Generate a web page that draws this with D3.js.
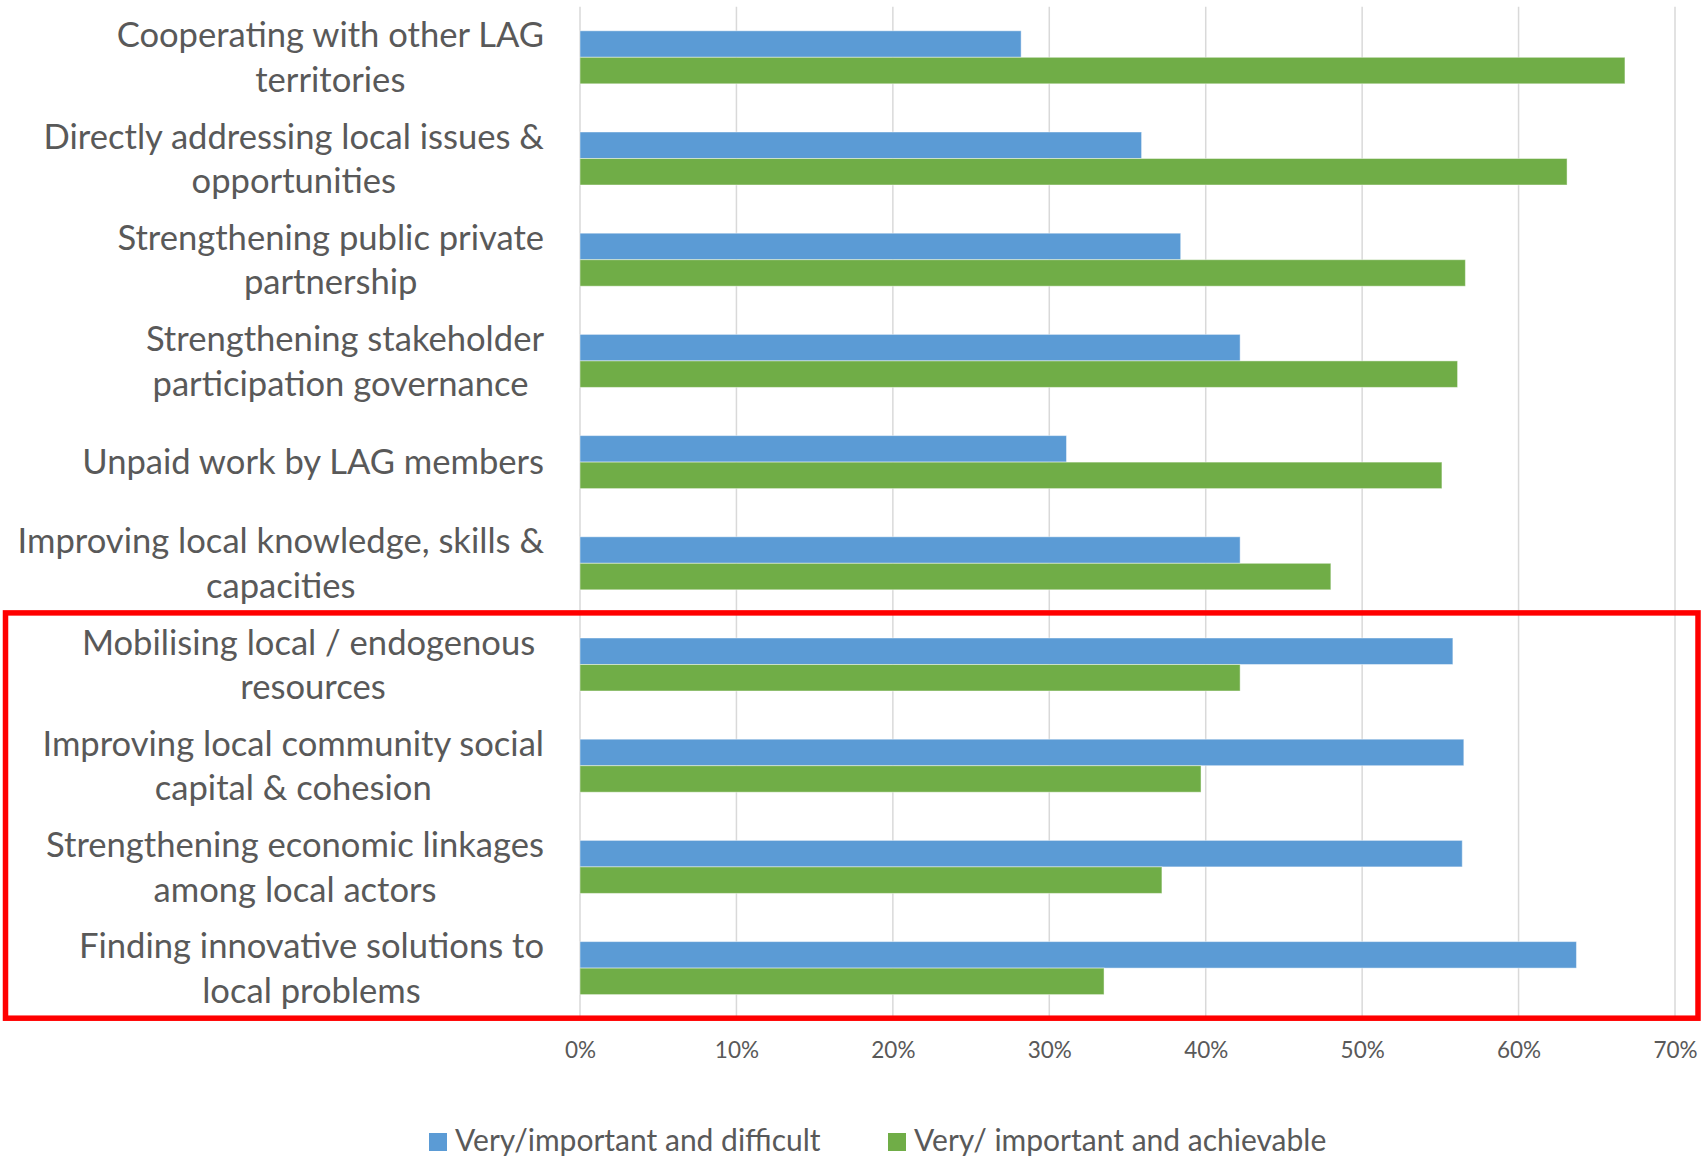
<!DOCTYPE html>
<html>
<head>
<meta charset="utf-8">
<script src="https://cdn.jsdelivr.net/npm/d3@7"></script>
<style>
  html, body { margin: 0; padding: 0; background: #ffffff; }
  svg { display: block; }
  text { font-family: Lato, "Open Sans", sans-serif; fill: #595959; white-space: pre; }
</style>
</head>
<body>
<svg id="chart" width="1707" height="1156"></svg>
<script>
// ---- data ----
const categories = [
  "Cooperating with other LAG territories",
  "Directly addressing local issues & opportunities",
  "Strengthening public private partnership",
  "Strengthening stakeholder participation governance",
  "Unpaid work by LAG members",
  "Improving local knowledge, skills & capacities",
  "Mobilising local / endogenous resources",
  "Improving local community social capital & cohesion",
  "Strengthening economic linkages among local actors",
  "Finding innovative solutions to local problems"
];
const categoryLines = [
  ["Cooperating with other LAG", "territories"],
  ["Directly addressing local issues &", "opportunities"],
  ["Strengthening public private", "partnership"],
  ["Strengthening stakeholder", "participation governance "],
  ["Unpaid work by LAG members"],
  ["Improving local knowledge, skills &", "capacities"],
  ["Mobilising local / endogenous ", "resources"],
  ["Improving local community social", "capital & cohesion"],
  ["Strengthening economic linkages", "among local actors"],
  ["Finding innovative solutions to", "local problems"]
];
const seriesNames = ["Very/important and difficult", "Very/ important and achievable"];
const difficult  = [0.282, 0.359, 0.384, 0.422, 0.311, 0.422, 0.558, 0.565, 0.564, 0.637];
const achievable = [0.668, 0.631, 0.566, 0.561, 0.551, 0.480, 0.422, 0.397, 0.372, 0.335];
const xTicks = [0, 0.1, 0.2, 0.3, 0.4, 0.5, 0.6, 0.7];
const highlighted = categories.slice(6);
const colors = ["#5B9BD5", "#70AD47"];

// ---- layout ----
const svg = d3.select("#chart");
const plotLeft = 580, plotRight = 1675, plotTop = 6.7, plotBottom = 1018.7;
const labelRight = 544;
const catFont = 34.6, tickFont = 22.5, legendFont = 30, lineH = 44.6;

const x = d3.scaleLinear().domain([0, 0.7]).range([plotLeft, plotRight]);
const step = (plotBottom - plotTop) / categories.length;
const p = 1 - 53 / step;
const y = d3.scaleBand().domain(categories).range([plotTop, plotBottom])
  .paddingInner(p).paddingOuter(p / 2);
const ySub = d3.scaleBand().domain(seriesNames).range([0, y.bandwidth()]);

// gridlines
svg.append("g").selectAll("line").data(xTicks).join("line")
  .attr("x1", d => x(d)).attr("x2", d => x(d))
  .attr("y1", plotTop).attr("y2", plotBottom)
  .attr("stroke", "#D9D9D9").attr("stroke-width", 1.5);

// tick labels via axis
const axis = svg.append("g").attr("transform", `translate(0,${plotBottom})`)
  .call(d3.axisBottom(x).tickValues(xTicks).tickFormat(d3.format(".0%")).tickSize(0).tickPadding(0));
axis.select(".domain").remove();
axis.selectAll("text")
  .attr("y", 1058 - plotBottom).attr("dy", null)
  .style("font-size", tickFont + "px").style("font-family", "Lato, sans-serif").attr("fill", "#595959");

// bars
const rows = categories.map((c, i) => ({ c, vals: [difficult[i], achievable[i]] }));
const groups = svg.append("g").selectAll("g").data(rows).join("g")
  .attr("transform", d => `translate(0,${y(d.c)})`);
groups.selectAll("rect").data(d => d.vals.map((v, k) => ({ v, k }))).join("rect")
  .attr("x", x(0))
  .attr("y", d => ySub(seriesNames[d.k]))
  .attr("width", d => x(d.v) - x(0))
  .attr("height", ySub.bandwidth())
  .attr("fill", d => colors[d.k])
  .attr("stroke", "#ffffff").attr("stroke-opacity", 0.45).attr("stroke-width", 1);

// category labels
const lab = svg.append("g");
rows.forEach((d, i) => {
  const lines = categoryLines[i];
  const cy = y(d.c) + y.bandwidth() / 2;
  const g = lab.append("g");
  const texts = lines.map((t, k) => g.append("text")
    .attr("y", cy + (k - (lines.length - 1) / 2) * lineH + 12.3)
    .style("font-size", catFont + "px")
    .attr("text-anchor", "middle")
    .text(t));
  const maxW = d3.max(texts, t => t.node().getComputedTextLength());
  texts.forEach(t => t.attr("x", labelRight - maxW / 2));
});

// highlight box
const boxTop = y(highlighted[0]) - y.step() * y.paddingInner() / 2;
svg.append("rect")
  .attr("x", 5.5).attr("y", boxTop - 1)
  .attr("width", 1698 - 5.5).attr("height", plotBottom + 0.5 - boxTop)
  .attr("fill", "none").attr("stroke", "#FF0000").attr("stroke-width", 5.5);

// legend
const legendX = [429, 888];
const lg = svg.append("g").selectAll("g").data(seriesNames).join("g")
  .attr("transform", (d, i) => `translate(${legendX[i]},0)`);
lg.append("rect").attr("x", 0).attr("y", 1133).attr("width", 18).attr("height", 18)
  .attr("fill", (d, i) => colors[i]);
lg.append("text").attr("x", 26).attr("y", 1151)
  .style("font-size", legendFont + "px").text(d => d);
</script>
</body>
</html>
